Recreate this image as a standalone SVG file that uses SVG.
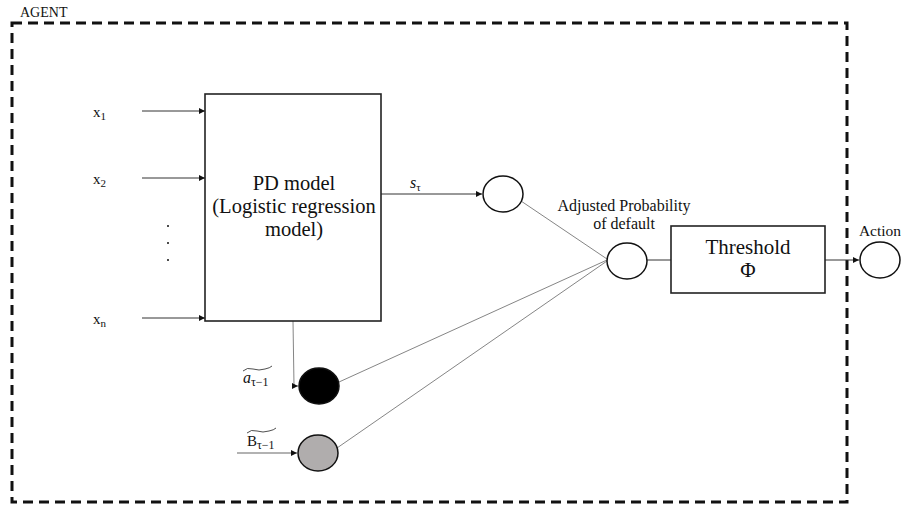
<svg xmlns="http://www.w3.org/2000/svg" width="901" height="506" viewBox="0 0 901 506">
  <style>
    .t { font-family: "Liberation Serif", "DejaVu Serif", serif; fill: #111; }
    .box { fill: #fff; stroke: #222; stroke-width: 1.6; }
    .node { stroke: #111; stroke-width: 1.5; }
    .wire { fill: none; stroke: #333; stroke-width: 1; }
    .thin { fill: none; stroke: #777; stroke-width: 0.9; }
  </style>
  <defs>
    <marker id="arr" viewBox="0 0 10 10" refX="10" refY="5" markerWidth="6" markerHeight="6" markerUnits="userSpaceOnUse" orient="auto">
      <path d="M0,0 L10,5 L0,10 z" fill="#111"/>
    </marker>
  </defs>
  <rect width="901" height="506" fill="#fff"/>

  <!-- agent boundary -->
  <g id="agent">
    <rect x="12" y="23" width="835" height="479" fill="none" stroke="#111" stroke-width="3" stroke-dasharray="10 6"/>
    <text class="t" x="20" y="17" font-size="14">AGENT</text>
  </g>

  <!-- connectors -->
  <g id="connectors">
    <line class="wire" x1="142" y1="111" x2="205" y2="111" marker-end="url(#arr)"/>
    <line class="wire" x1="142" y1="178" x2="205" y2="178" marker-end="url(#arr)"/>
    <line class="wire" x1="142" y1="318" x2="205" y2="318" marker-end="url(#arr)"/>
    <line class="wire" x1="381" y1="194" x2="482" y2="194" marker-end="url(#arr)"/>
    <path class="thin" d="M293,321 L294,386 L298,386" marker-end="url(#arr)"/>
    <line x1="237" y1="453" x2="297" y2="453" stroke="#999" stroke-width="1.6" marker-end="url(#arr)"/>
    <line class="thin" x1="521" y1="201" x2="607" y2="259"/>
    <line class="thin" x1="339" y1="382" x2="607" y2="260"/>
    <line class="thin" x1="337" y1="448" x2="607" y2="261"/>
    <line class="wire" x1="647" y1="260" x2="671" y2="260"/>
    <line class="wire" x1="825" y1="260" x2="859" y2="260" marker-end="url(#arr)"/>
  </g>

  <!-- inputs -->
  <g id="inputs" class="t" font-size="15">
    <text x="93" y="117">x<tspan font-size="11" dy="3">1</tspan></text>
    <text x="93" y="184">x<tspan font-size="11" dy="3">2</tspan></text>
    <text x="93" y="324">x<tspan font-size="11" dy="3">n</tspan></text>
    <circle cx="168" cy="226" r="1" fill="#111"/>
    <circle cx="168" cy="243" r="1" fill="#111"/>
    <circle cx="168" cy="260" r="1" fill="#111"/>
  </g>

  <!-- PD model -->
  <g id="pd-model">
    <rect class="box" x="205" y="94" width="176" height="227"/>
    <text class="t" x="294" y="190" font-size="20.5" text-anchor="middle">PD model</text>
    <text class="t" x="294" y="213" font-size="20.5" text-anchor="middle">(Logistic regression</text>
    <text class="t" x="294" y="236" font-size="20.5" text-anchor="middle">model)</text>
  </g>

  <!-- score node -->
  <g id="score">
    <ellipse class="node" cx="503" cy="194" rx="20" ry="18" fill="#fff"/>
    <text class="t" x="410" y="188" font-size="16" font-style="italic">s<tspan font-size="11" dy="3" font-style="normal">τ</tspan></text>
  </g>

  <!-- previous action -->
  <g id="prev-action">
    <ellipse class="node" cx="319" cy="386" rx="20" ry="18" fill="#000"/>
    <text class="t" x="243" y="383" font-size="16"><tspan font-style="italic">a</tspan><tspan font-size="12" dy="3">τ−1</tspan></text>
    <path d="M243,371 q4,-4 10,-2 t12,0 q5,-1 7,-3" fill="none" stroke="#222" stroke-width="0.8"/>
  </g>

  <!-- previous balance -->
  <g id="prev-balance">
    <ellipse class="node" cx="318" cy="453" rx="20" ry="18" fill="#b0adad" stroke-width="1.2"/>
    <text class="t" x="247" y="446" font-size="15">B<tspan font-size="12" dy="3">τ−1</tspan></text>
    <path d="M247,433 q4,-4 10,-2 t12,0 q5,-1 7,-3" fill="none" stroke="#222" stroke-width="0.8"/>
  </g>

  <!-- adjusted probability -->
  <g id="adjusted-pd">
    <ellipse class="node" cx="627" cy="261" rx="20" ry="18" fill="#fff"/>
    <text class="t" x="624" y="211" font-size="16" text-anchor="middle">Adjusted Probability</text>
    <text class="t" x="624" y="229" font-size="16" text-anchor="middle">of default</text>
  </g>

  <!-- threshold -->
  <g id="threshold">
    <rect class="box" x="671" y="226" width="154" height="67"/>
    <text class="t" x="748" y="254" font-size="21" text-anchor="middle">Threshold</text>
    <text class="t" x="748" y="277" font-size="21" text-anchor="middle">Φ</text>
  </g>

  <!-- action -->
  <g id="action">
    <ellipse class="node" cx="880" cy="260" rx="20" ry="18" fill="#fff"/>
    <text class="t" x="880" y="236" font-size="15.5" text-anchor="middle">Action</text>
  </g>
</svg>
